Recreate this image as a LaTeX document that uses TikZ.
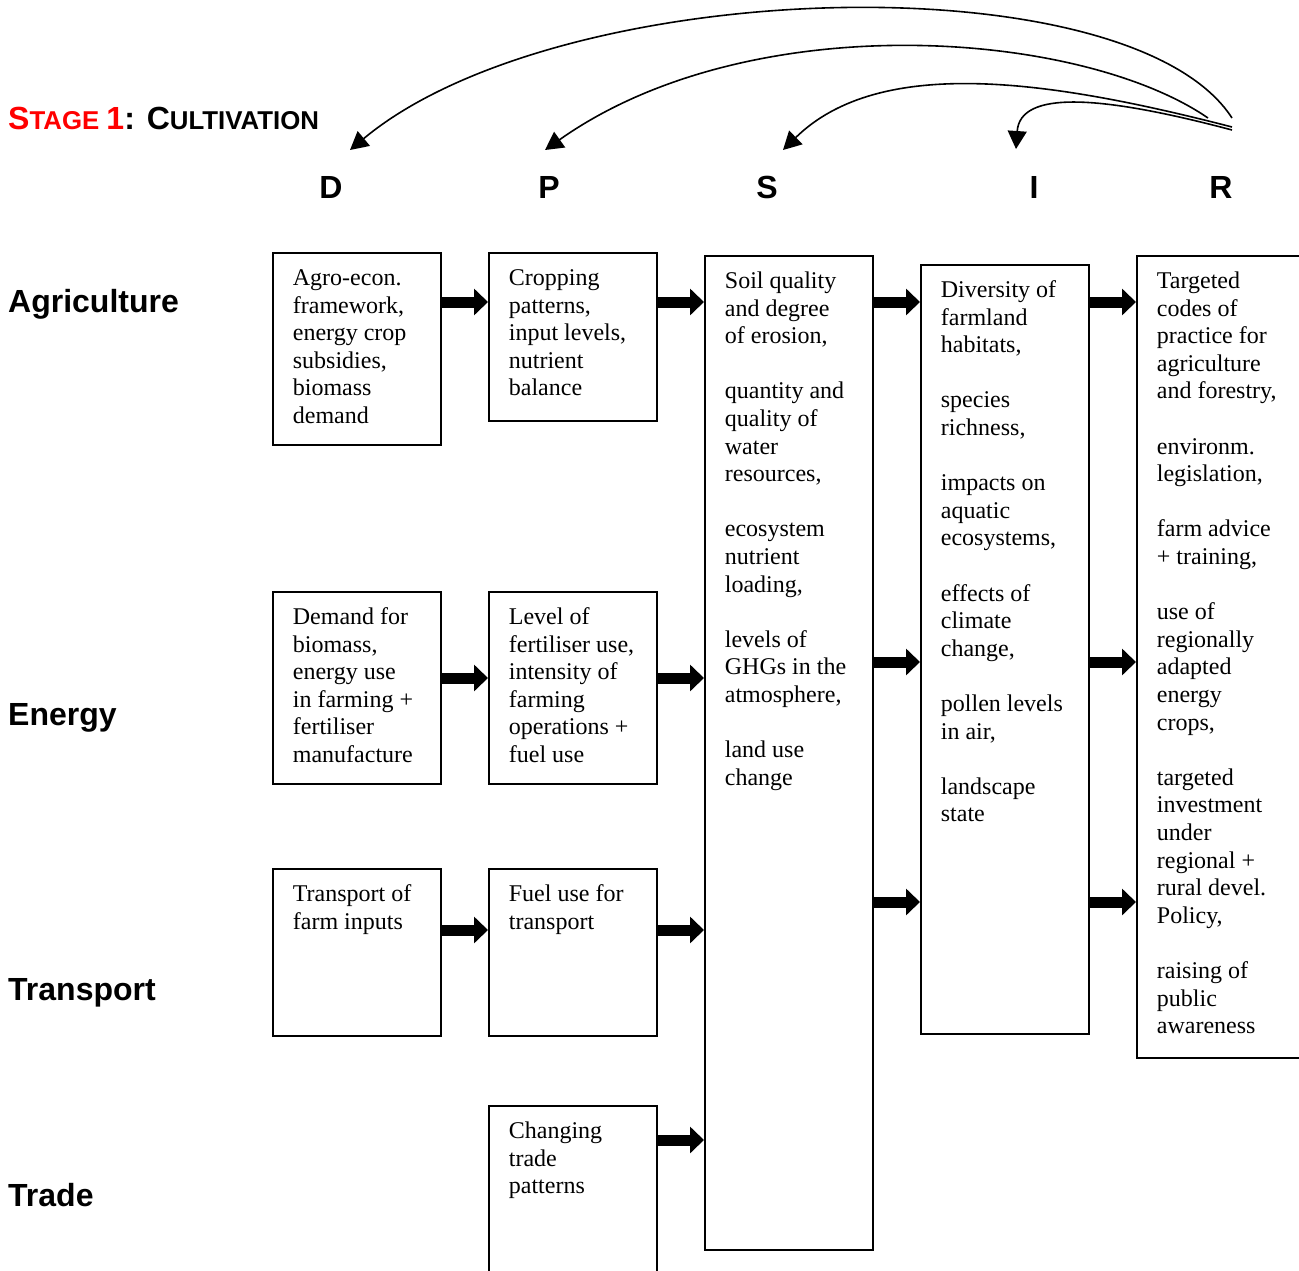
\documentclass[tikz,border=0pt]{standalone}
\usepackage{fontspec}
\setmainfont{Liberation Serif}
\newfontfamily\hsans{Liberation Sans}
\usetikzlibrary{arrows.meta}
\definecolor{stagered}{RGB}{255,0,0}
\newcommand\bxt[3]{\parbox[b][#1][t]{#2}{\fontsize{24pt}{27.6pt}\selectfont\leftskip=20pt\rightskip=0pt plus 1fil\rule{0pt}{32.5pt}#3}}
\tikzset{
  box/.style={draw, line width=1.8pt, inner sep=0pt, anchor=north west},
  blk/.style={line width=11pt, -{Triangle[length=14pt,width=26pt]}},
  cur/.style={line width=1.6pt, -{Triangle[length=18pt,width=19pt]}},
  rowlab/.style={anchor=base west, inner sep=0pt, font=\hsans\bfseries\fontsize{32pt}{32pt}\selectfont},
  hdr/.style={anchor=base, inner sep=0pt, font=\hsans\bfseries\fontsize{32pt}{32pt}\selectfont}
}
\begin{document}
\begin{tikzpicture}[x=1pt,y=-1pt]
\useasboundingbox (0,0) rectangle (1299,1271);
% title
\node[anchor=base west, inner sep=0pt, font=\hsans\bfseries] (title) at (8,130)
 {\textcolor{stagered}{\fontsize{32pt}{32pt}\selectfont S\fontsize{25.8pt}{25.8pt}\selectfont TAGE \fontsize{32pt}{32pt}\selectfont 1}\fontsize{32pt}{32pt}\selectfont: C\fontsize{25.8pt}{25.8pt}\selectfont ULTIVATION};
% headers
\node[hdr] (hD) at (331,198.5) {D};
\node[hdr] (hP) at (549,198.5) {P};
\node[hdr] (hS) at (767,198.5) {S};
\node[hdr] (hI) at (1034,198.5) {I};
\node[hdr] (hR) at (1221,198.5) {R};
% row labels
\node[rowlab] (lAgr) at (8,312) {Agriculture};
\node[rowlab] (lEn) at (8,725) {Energy};
\node[rowlab] (lTr) at (8,1000) {Transport};
\node[rowlab] (lTd) at (8,1206) {Trade};
% boxes
\node[box] (dA) at (272,252) {\bxt{192pt}{168pt}{Agro-econ.\\framework,\\energy crop\\subsidies,\\biomass\\demand}};
\node[box] (pA) at (488,252) {\bxt{168pt}{168pt}{Cropping\\patterns,\\input levels,\\nutrient\\balance}};
\node[box] (dE) at (272,591) {\bxt{192pt}{168pt}{Demand for\\biomass,\\energy use\\in farming +\\fertiliser\\manufacture}};
\node[box] (pE) at (488,591) {\bxt{192pt}{168pt}{Level of\\fertiliser use,\\intensity of\\farming\\operations +\\fuel use}};
\node[box] (dT) at (272,868) {\bxt{167pt}{168pt}{Transport of\\farm inputs}};
\node[box] (pT) at (488,868) {\bxt{167pt}{168pt}{Fuel use for\\transport}};
\node[box] (pTd) at (488,1105) {\bxt{190pt}{168pt}{Changing\\trade\\patterns}};
\node[box] (sB) at (704,255) {\bxt{994pt}{168pt}{Soil quality\\and degree\\of erosion,\\[27.6pt]quantity and\\quality of\\water\\resources,\\[27.6pt]ecosystem\\nutrient\\loading,\\[27.6pt]levels of\\GHGs in the\\atmosphere,\\[27.6pt]land use\\change}};
\node[box] (iB) at (920,264) {\bxt{769pt}{168pt}{Diversity of\\farmland\\habitats,\\[27.6pt]species\\richness,\\[27.6pt]impacts on\\aquatic\\ecosystems,\\[27.6pt]effects of\\climate\\change,\\[27.6pt]pollen levels\\in air,\\[27.6pt]landscape\\state}};
\node[box] (rB) at (1136,255) {\bxt{802pt}{176pt}{Targeted\\codes of\\practice for\\agriculture\\and forestry,\\[27.6pt]environm.\\legislation,\\[27.6pt]farm advice\\+ training,\\[27.6pt]use of\\regionally\\adapted\\energy\\crops,\\[27.6pt]targeted\\investment\\under\\regional +\\rural devel.\\Policy,\\[27.6pt]raising of\\public\\awareness}};
% block arrows
\draw[blk] (dA.east |- 0,302) -- (pA.west |- 0,302);
\draw[blk] (dE.east |- 0,678) -- (pE.west |- 0,678);
\draw[blk] (dT.east |- 0,930) -- (pT.west |- 0,930);
\draw[blk] (pA.east |- 0,302) -- (sB.west |- 0,302);
\draw[blk] (pE.east |- 0,678) -- (sB.west |- 0,678);
\draw[blk] (pT.east |- 0,930) -- (sB.west |- 0,930);
\draw[blk] (pTd.east |- 0,1140) -- (sB.west |- 0,1140);
\draw[blk] (sB.east |- 0,302) -- (iB.west |- 0,302);
\draw[blk] (sB.east |- 0,662) -- (iB.west |- 0,662);
\draw[blk] (sB.east |- 0,902) -- (iB.west |- 0,902);
\draw[blk] (iB.east |- 0,302) -- (rB.west |- 0,302);
\draw[blk] (iB.east |- 0,662) -- (rB.west |- 0,662);
\draw[blk] (iB.east |- 0,902) -- (rB.west |- 0,902);
% feedback curves from R
\coordinate (r1) at (1232,118);
\coordinate (r2) at (1208,118);
\coordinate (r3) at (1232,127);
\coordinate (r4) at (1232,130);
\coordinate (tD) at (350,150);
\coordinate (tP) at (545,150);
\coordinate (tS) at (783,150);
\coordinate (tI) at (1016,149);
\draw[cur] (r1) .. controls (1130,-40) and (560,-25) .. (tD);
\draw[cur] (r2) .. controls (1080,30) and (750,5) .. (tP);
\draw[cur] (r3) .. controls (1050,80) and (880,55) .. (tS);
\draw[cur] (r4) .. controls (1100,95) and (1020,90) .. (tI);
\end{tikzpicture}
\end{document}
